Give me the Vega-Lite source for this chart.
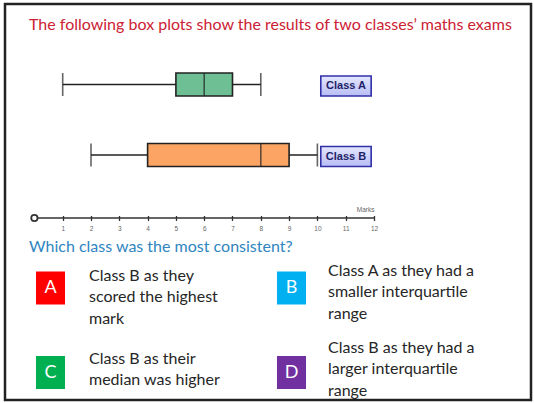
{
  "$schema": "https://vega.github.io/schema/vega-lite/v6.json",
  "width": 526,
  "height": 396,
  "autosize": {"type": "none"},
  "padding": {"left": 5, "top": 4, "right": 3, "bottom": 3},
  "background": "white",
  "config": {"view": {"stroke": "#222222", "strokeWidth": 2.5}, "font": "Lato"},
  "title": {
    "text": "The following box plots show the results of two classes’ maths exams",
    "subtitle": "Which class was the most consistent?",
    "anchor": "start",
    "frame": "group",
    "orient": "top",
    "offset": -251,
    "dx": 24,
    "font": "Lato",
    "fontSize": 16,
    "fontWeight": "normal",
    "color": "#cc2233",
    "subtitleFont": "Lato",
    "subtitleFontSize": 16,
    "subtitleColor": "#2f85c0",
    "subtitlePadding": 206
  },
  "datasets": {
    "boxes": [
      {"class": "Class A", "min": 1, "q1": 5, "median": 6, "q3": 7, "max": 8},
      {"class": "Class B", "min": 2, "q1": 4, "median": 8, "q3": 9, "max": 10}
    ],
    "answers": [
      {"option": "A", "col": "left", "row": "top", "text": "Class B as they\nscored the highest\nmark"},
      {"option": "B", "col": "right", "row": "top", "text": "Class A as they had a\nsmaller interquartile\nrange"},
      {"option": "C", "col": "left", "row": "bottom", "text": "Class B as their\nmedian was higher"},
      {"option": "D", "col": "right", "row": "bottom", "text": "Class B as they had a\nlarger interquartile\nrange"}
    ]
  },
  "layer": [
    {
      "data": {"name": "boxes"},
      "encoding": {
        "y": {"field": "class", "type": "nominal", "scale": {"type": "point", "domain": ["Class A", "Class B"], "range": [80.5, 151], "padding": 0}, "axis": null}
      },
      "layer": [
        {
          "mark": {"type": "rule", "color": "#222222", "strokeWidth": 1.6},
          "encoding": {
            "x": {"field": "min", "type": "quantitative", "scale": {"domain": [-1.0389, 17.548], "nice": false, "zero": false},
              "axis": {"orient": "bottom", "offset": -184.5, "values": [1, 2, 3, 4, 5, 6, 7, 8, 9, 10, 11, 12], "domain": false, "grid": false,
                "tickSize": 5, "tickWidth": 1.3, "tickColor": "#333333", "labelFontSize": 6.5, "labelColor": "#666666", "labelPadding": 5,
                "labelFont": "Liberation Sans", "title": "Marks", "titleX": 369, "titleY": -3, "titleAlign": "right", "titleBaseline": "bottom",
                "titleFontSize": 6.5, "titleFontWeight": "normal", "titleColor": "#666666", "titleFont": "Liberation Sans", "labelFlush": false}},
            "x2": {"field": "max"}
          }
        },
        {
          "mark": {"type": "tick", "color": "#222222", "thickness": 1.6, "size": 23, "orient": "vertical"},
          "encoding": {"x": {"field": "min", "type": "quantitative"}}
        },
        {
          "mark": {"type": "tick", "color": "#222222", "thickness": 1.6, "size": 23, "orient": "vertical"},
          "encoding": {"x": {"field": "max", "type": "quantitative"}}
        },
        {
          "mark": {"type": "bar", "size": 23, "stroke": "#222222", "strokeWidth": 1.6},
          "encoding": {
            "x": {"field": "q1", "type": "quantitative"},
            "x2": {"field": "q3"},
            "color": {"field": "class", "type": "nominal", "scale": {"domain": ["Class A", "Class B"], "range": ["#6fbf94", "#fba463"]}, "legend": null}
          }
        },
        {
          "mark": {"type": "tick", "color": "#222222", "thickness": 1.6, "size": 23, "orient": "vertical"},
          "encoding": {"x": {"field": "median", "type": "quantitative"}}
        },
        {
          "mark": {"type": "bar", "size": 20, "yOffset": 1.5, "stroke": "#3030a8", "strokeWidth": 1.6,
            "fill": {"gradient": "linear", "x1": 0, "y1": 0, "x2": 0, "y2": 1, "stops": [{"offset": 0, "color": "#e4e6ff"}, {"offset": 1, "color": "#b8bdf4"}]}},
          "encoding": {"x": {"datum": 10.12, "type": "quantitative"}, "x2": {"datum": 11.9}}
        },
        {
          "mark": {"type": "text", "font": "Liberation Sans", "fontWeight": "bold", "fontSize": 11, "color": "#1f1f66", "yOffset": 1.5, "baseline": "middle", "align": "center"},
          "encoding": {"x": {"datum": 11.01, "type": "quantitative"}, "text": {"field": "class"}}
        }
      ]
    },
    {
      "data": {"values": [{"start": 0, "end": 12}]},
      "encoding": {
        "y": {"datum": 0, "type": "quantitative", "scale": {"domain": [0, 1], "range": [214, 215]}, "axis": null}
      },
      "layer": [
        {
          "mark": {"type": "rule", "color": "#333333", "strokeWidth": 1.3},
          "encoding": {
            "x": {"field": "start", "type": "quantitative", "scale": {"domain": [-1.0389, 17.548], "nice": false, "zero": false}, "axis": null},
            "x2": {"field": "end"}
          }
        },
        {
          "mark": {"type": "point", "shape": "circle", "size": 40, "filled": true, "fill": "white", "stroke": "#333333", "strokeWidth": 1.8, "opacity": 1},
          "encoding": {"x": {"field": "start", "type": "quantitative"}}
        }
      ]
    },
    {
      "data": {"name": "answers"},
      "layer": [
        {
          "mark": {"type": "point", "shape": "M-0.88,-1H0.88V1H-0.88Z", "size": 1089, "filled": true, "opacity": 1, "strokeWidth": 0},
          "encoding": {
            "x": {"field": "col", "type": "nominal", "scale": {"type": "point", "domain": ["left", "right"], "range": [45.5, 286.5], "padding": 0}, "axis": null},
            "y": {"field": "row", "type": "nominal", "scale": {"type": "point", "domain": ["top", "bottom"], "range": [284, 368.5], "padding": 0}, "axis": null},
            "color": {"field": "option", "type": "nominal", "scale": {"domain": ["A", "B", "C", "D"], "range": ["#ff0000", "#00b0f0", "#00b050", "#7030a0"]}, "legend": null}
          }
        },
        {
          "mark": {"type": "text", "color": "white", "fontSize": 18, "font": "Lato", "baseline": "middle", "align": "center"},
          "encoding": {
            "x": {"field": "col", "type": "nominal", "scale": {"type": "point", "domain": ["left", "right"], "range": [45.5, 286.5], "padding": 0}, "axis": null},
            "y": {"field": "row", "type": "nominal", "scale": {"type": "point", "domain": ["top", "bottom"], "range": [284, 368.5], "padding": 0}, "axis": null},
            "text": {"field": "option"}
          }
        },
        {
          "transform": [{"filter": "datum.col === 'left'"}],
          "mark": {"type": "text", "align": "left", "baseline": "alphabetic", "fontSize": 16, "font": "Lato", "lineHeight": 21.5, "lineBreak": "\n", "color": "#262626"},
          "encoding": {
            "x": {"field": "col", "type": "nominal", "scale": {"type": "point", "domain": ["left", "right"], "range": [84, 323], "padding": 0}, "axis": null},
            "y": {"field": "row", "type": "nominal", "scale": {"type": "point", "domain": ["top", "bottom"], "range": [276.5, 359.5], "padding": 0}, "axis": null},
            "text": {"field": "text"}
          }
        },
        {
          "transform": [{"filter": "datum.col === 'right'"}],
          "mark": {"type": "text", "align": "left", "baseline": "alphabetic", "fontSize": 16, "font": "Lato", "lineHeight": 21.5, "lineBreak": "\n", "color": "#262626"},
          "encoding": {
            "x": {"field": "col", "type": "nominal", "scale": {"type": "point", "domain": ["left", "right"], "range": [84, 323], "padding": 0}, "axis": null},
            "y": {"field": "row", "type": "nominal", "scale": {"type": "point", "domain": ["top", "bottom"], "range": [271.5, 348.5], "padding": 0}, "axis": null},
            "text": {"field": "text"}
          }
        }
      ],
      "resolve": {"scale": {"x": "independent", "y": "independent", "color": "independent"}}
    }
  ],
  "resolve": {"scale": {"x": "independent", "y": "independent", "color": "independent"}}
}
